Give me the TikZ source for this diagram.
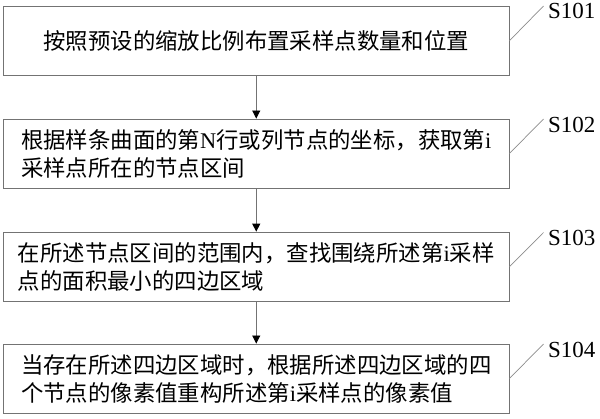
\documentclass[tikz,border=0pt]{standalone}
\usepackage{fontspec}
\setmainfont{Liberation Serif}
\newfontfamily\cjk{Noto Sans CJK SC}
\usetikzlibrary{arrows.meta}
\begin{document}
\begin{tikzpicture}[x=1pt,y=-1pt,
  box/.style={draw=black!55,line width=0.9pt,minimum width=505.5pt,minimum height=69pt,inner sep=0pt,align=left,font=\fontsize{22.4}{28}\selectfont},
  lab/.style={anchor=west,inner sep=0pt,font=\fontsize{23}{26}\selectfont},
  leader/.style={draw=black!45,line width=0.7pt},
  arr/.style={draw=black!55,line width=0.9pt,-{Triangle[length=8pt,width=8pt,black]}}]
\useasboundingbox (0,0) rectangle (600,419);
\node[box] (b1) at (256.25,40.75) {{\cjk 按照预设的缩放比例布置采样点数量和位置}};
\node[box] (b2) at (256.25,153.5) {{\cjk 根据样条曲面的第}N{\cjk 行或列节点的坐标，获取第}i\\{\cjk 采样点所在的节点区间}};
\node[box] (b3) at (256.25,266.6) {{\cjk 在所述节点区间的范围内，查找围绕所述第}i{\cjk 采样}\\{\cjk 点的面积最小的四边区域}};
\node[box] (b4) at (256.25,378.5) {{\cjk 当存在所述四边区域时，根据所述四边区域的四}\\{\cjk 个节点的像素值重构所述第}i{\cjk 采样点的像素值}};
\node[lab] (l1) at (548,11) {S101};
\node[lab] (l2) at (548,124.5) {S102};
\node[lab] (l3) at (548,237.5) {S103};
\node[lab] (l4) at (548,350) {S104};
\coordinate (c1) at (543.5,6);
\coordinate (c2) at (543.5,119);
\coordinate (c3) at (543.5,232.5);
\coordinate (c4) at (543.5,344);
\draw[leader] (b1.east) -- (c1);
\draw[leader] (b2.east) -- (c2);
\draw[leader] (b3.east) -- (c3);
\draw[leader] (b4.east) -- (c4);
\draw[arr] (b1.south) -- (b2.north);
\draw[arr] (b2.south) -- (b3.north);
\draw[arr] (b3.south) -- (b4.north);
\end{tikzpicture}
\end{document}
